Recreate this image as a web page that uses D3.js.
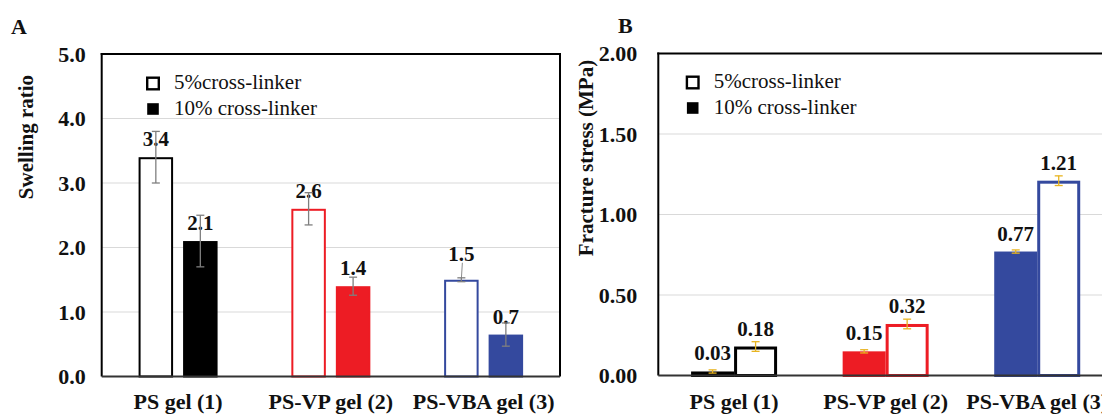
<!DOCTYPE html>
<html><head><meta charset="utf-8">
<script src="https://cdn.jsdelivr.net/npm/d3@7/dist/d3.min.js"></script>
<style>
html,body{margin:0;padding:0;background:#fff;}
svg{display:block;font-family:"Liberation Serif","Times New Roman",serif;}
</style></head>
<body><svg id="c" width="1102" height="414"></svg>
<script>
const categories = ["PS gel (1)", "PS-VP gel (2)", "PS-VBA gel (3)"];
const seriesNames = ["5%cross-linker", "10% cross-linker"];
const groupColors = ["#000000", "#ed1c24", "#34499e"];

// Panel A: swelling ratio
const swell5 = [3.4, 2.6, 1.5];
const swell10 = [2.1, 1.4, 0.65];
const swellErr5 = [0.4, 0.25, 0.03];
const swellErr10 = [0.4, 0.14, 0.18];
const swellLabels5 = ["3.4", "2.6", "1.5"];
const swellLabels10 = ["2.1", "1.4", "0.7"];
const ticksA = [0, 1, 2, 3, 4, 5];

// Panel B: fracture stress (MPa)
const stress5 = [0.18, 0.32, 1.21];
const stress10 = [0.025, 0.15, 0.77];
const stressErr5 = [0.03, 0.03, 0.03];
const stressErr10 = [0.01, 0.01, 0.01];
const stressLabels5 = ["0.18", "0.32", "1.21"];
const stressLabels10 = ["0.03", "0.15", "0.77"];
const ticksB = [0, 0.5, 1.0, 1.5, 2.0];

const FONT = "Liberation Serif, Times New Roman, serif";
const svg = d3.select("#c");

function panel(opt) {
  const g = svg.append("g");
  const x = d3.scaleBand().domain(categories).range([opt.left, opt.right]);
  const xi = d3.scaleBand().domain(opt.order).range(opt.inner).paddingInner(opt.innerPad);
  const y = d3.scaleLinear().domain(opt.domain).range([opt.bottom, opt.top]);

  // gridlines
  g.append("g").selectAll("line").data(opt.ticks.slice(1, -1)).join("line")
    .attr("x1", opt.left).attr("x2", Math.min(opt.right, 1102))
    .attr("y1", d => y(d)).attr("y2", d => y(d))
    .attr("stroke", "#d9d9d9").attr("stroke-width", 1.2);

  // y axis tick labels
  const ax = d3.axisLeft(y).tickValues(opt.ticks).tickFormat(d3.format(opt.fmt))
    .tickSize(0).tickPadding(opt.tickPad);
  const axg = g.append("g").attr("transform", `translate(${opt.left},0)`).call(ax);
  axg.select(".domain").remove();
  axg.attr("font-family", FONT);
  axg.selectAll("text").attr("font-family", FONT)
    .attr("font-size", 22).attr("font-weight", "bold").attr("fill", "#111");

  // category labels
  const xa = d3.axisBottom(x).tickSize(0).tickPadding(opt.catPad);
  const xg = g.append("g").attr("transform", `translate(0,${opt.bottom})`).call(xa);
  xg.select(".domain").remove();
  xg.attr("font-family", FONT);
  xg.selectAll("text").attr("font-family", FONT)
    .attr("font-size", 22).attr("font-weight", "bold").attr("fill", "#111");

  // bars
  const data = [];
  categories.forEach((c, i) => {
    data.push({c, s: "5", v: opt.v5[i], e: opt.e5[i], lab: opt.l5[i], col: groupColors[i], fill: false});
    data.push({c, s: "10", v: opt.v10[i], e: opt.e10[i], lab: opt.l10[i], col: groupColors[i], fill: true});
  });
  const cx = d => x(d.c) + x.bandwidth() / 2 + xi(d.s);
  const sw = opt.strokeW;
  g.append("g").selectAll("rect").data(data).join("rect")
    .attr("x", d => cx(d) + sw / 2)
    .attr("width", xi.bandwidth() - sw)
    .attr("y", d => y(d.v) + sw / 2)
    .attr("height", d => Math.max(0, y(0) - y(d.v) - sw / 2))
    .attr("fill", d => d.fill ? d.col : "#fff")
    .attr("stroke", d => d.col).attr("stroke-width", sw);

  // labels
  g.append("g").selectAll("text").data(data).join("text")
    .attr("x", d => cx(d) + xi.bandwidth() / 2)
    .attr("y", d => y(d.v) - (opt.leader && d.s === "5" && d.c === categories[2] ? 19 : 11))
    .attr("text-anchor", "middle").attr("font-size", 21).attr("font-weight", "bold")
    .attr("font-family", FONT).attr("fill", "#111").text(d => d.lab);

  if (opt.leader) {
    const d = data[4];
    g.append("line").attr("x1", cx(d) + xi.bandwidth() / 2 + 1).attr("x2", cx(d) + xi.bandwidth() / 2)
      .attr("y1", y(d.v) - 17).attr("y2", y(d.v) - 1)
      .attr("stroke", "#8c8c8c").attr("stroke-width", 1);
  }

  // error bars
  const eg = g.append("g").attr("stroke", opt.errCol).attr("stroke-width", opt.errW);
  data.forEach(d => {
    const xc = cx(d) + xi.bandwidth() / 2;
    eg.append("line").attr("x1", xc).attr("x2", xc).attr("y1", y(d.v + d.e)).attr("y2", y(d.v - d.e));
    [d.v + d.e, d.v - d.e].forEach(t => eg.append("line")
      .attr("x1", xc - opt.cap).attr("x2", xc + opt.cap).attr("y1", y(t)).attr("y2", y(t)));
  });

  // frame
  g.append("line").attr("x1", opt.left).attr("x2", opt.left).attr("y1", opt.top - 1).attr("y2", opt.bottom)
    .attr("stroke", "#000").attr("stroke-width", 2);
  g.append("line").attr("x1", opt.left - 1).attr("x2", Math.min(opt.right + 1, 1102)).attr("y1", opt.top).attr("y2", opt.top)
    .attr("stroke", "#000").attr("stroke-width", 2);
  if (opt.right < 1102) {
    g.append("line").attr("x1", opt.right).attr("x2", opt.right).attr("y1", opt.top - 1).attr("y2", opt.bottom)
      .attr("stroke", "#000").attr("stroke-width", 2);
  }
  g.append("line").attr("x1", opt.left).attr("x2", Math.min(opt.right, 1102)).attr("y1", y(0)).attr("y2", y(0))
    .attr("stroke", "#333").attr("stroke-width", 2);

  // legend
  const lg = g.append("g");
  seriesNames.forEach((n, i) => {
    const yy = opt.legY + i * 25.5;
    lg.append("rect").attr("x", opt.legX + 1.2).attr("y", yy - 11.5 + 1.2).attr("width", 11.6).attr("height", 11.6)
      .attr("fill", i === 0 ? "#fff" : "#000").attr("stroke", "#000").attr("stroke-width", i === 0 ? 2.4 : 0);
    lg.append("text").attr("x", opt.legX + 28).attr("y", yy + 1).attr("font-size", 21)
      .attr("font-family", FONT).attr("fill", "#111").text(n);
  });

  // y title
  svg.append("text").attr("transform", `translate(${opt.titleX},${opt.titleY}) rotate(-90)`)
    .attr("text-anchor", "middle").attr("font-size", 21).attr("font-weight", "bold").attr("fill", "#111")
    .attr("font-family", FONT).text(opt.title);
  // panel letter
  svg.append("text").attr("x", opt.letX).attr("y", opt.letY).attr("font-size", 22).attr("font-weight", "bold")
    .attr("font-family", FONT).attr("fill", "#111").text(opt.letter);
}

panel({
  left: 101.7, right: 560, top: 54, bottom: 376.5, domain: [0, 5], ticks: ticksA, fmt: ".1f",
  order: ["5", "10"], inner: [-39.5, 39.5], innerPad: 10 / 44.5, strokeW: 2,
  v5: swell5, v10: swell10, e5: swellErr5, e10: swellErr10, l5: swellLabels5, l10: swellLabels10,
  errCol: "#7f7f7f", errW: 1.3, cap: 4, tickPad: 16, catPad: 17, leader: true,
  legX: 146, legY: 88, title: "Swelling ratio", titleX: 33, titleY: 137, letter: "A", letX: 11, letY: 34
});
panel({
  left: 658.3, right: 1113, top: 53.5, bottom: 375.5, domain: [0, 2], ticks: ticksB, fmt: ".2f",
  order: ["10", "5"], inner: [-43, 43], innerPad: 0, strokeW: 3,
  v5: stress5, v10: stress10, e5: stressErr5, e10: stressErr10, l5: stressLabels5, l10: stressLabels10,
  errCol: "#e8b420", errW: 1.3, cap: 4, tickPad: 21, catPad: 18, leader: false,
  legX: 685.7, legY: 87, title: "Fracture stress (MPa)", titleX: 593, titleY: 158, letter: "B", letX: 618, letY: 33
});
</script></body></html>
